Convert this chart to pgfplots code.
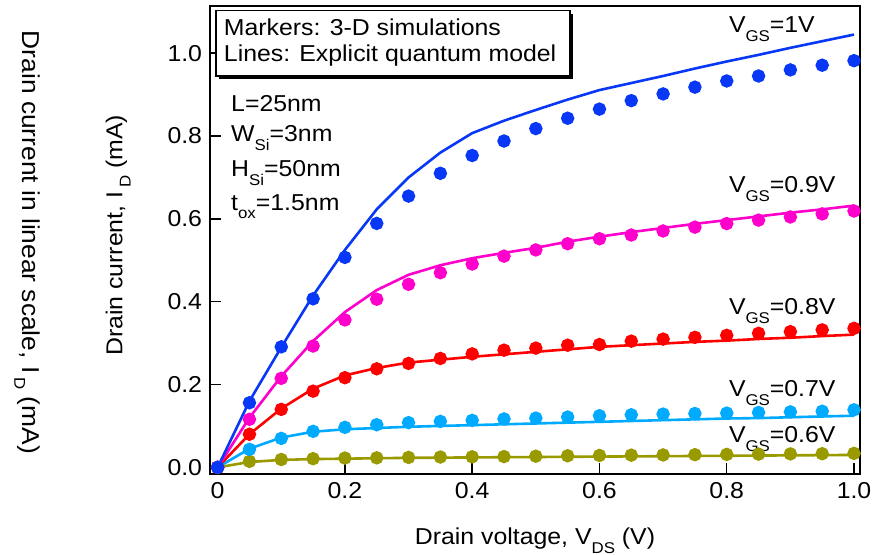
\documentclass[border=0pt]{standalone}
\usepackage{fontspec}
\setmainfont{Liberation Sans}[FakeStretch=1.08]
\usepackage{pgfplots}
\usepackage{pgfplotstable}
\pgfplotsset{compat=1.18}
\usetikzlibrary{calc}

\definecolor{cB}{RGB}{8,56,245}
\definecolor{cM}{RGB}{255,0,204}
\definecolor{cR}{RGB}{255,0,0}
\definecolor{cC}{RGB}{0,170,255}
\definecolor{cO}{RGB}{153,153,0}

\newcommand{\sub}[1]{\raisebox{-4.2pt}{\fontsize{7.8}{8}\selectfont #1}}

% markers: 3-D simulations
\pgfplotstableread{
vds  g10    g09    g08    g07    g06
0.00 0      0      0      0      0
0.05 0.156  0.116  0.080  0.0435 0.0145
0.10 0.291  0.215  0.140  0.070  0.019
0.15 0.407  0.293  0.184  0.087  0.021
0.20 0.507  0.356  0.2165 0.0966 0.0225
0.25 0.589  0.406  0.238  0.103  0.023
0.30 0.655  0.442  0.251  0.108  0.024
0.35 0.710  0.470  0.263  0.111  0.025
0.40 0.753  0.491  0.274  0.1135 0.0255
0.45 0.788  0.510  0.283  0.117  0.026
0.50 0.818  0.525  0.288  0.119  0.027
0.55 0.843  0.540  0.295  0.1215 0.028
0.60 0.865  0.552  0.2966 0.1247 0.0288
0.65 0.8855 0.561  0.3048 0.127  0.0295
0.70 0.9017 0.5708 0.3097 0.1287 0.030
0.75 0.918  0.580  0.314  0.130  0.0307
0.80 0.933  0.5886 0.3188 0.131  0.0313
0.85 0.945  0.597  0.3237 0.1325 0.032
0.90 0.9597 0.6046 0.3277 0.134  0.0325
0.95 0.971  0.612  0.332  0.1355 0.033
1.00 0.982  0.619  0.3357 0.139  0.0338
}\sim

% lines: explicit quantum model
\pgfplotstableread{
vds  g10   g09   g08    g07    g06
0.00 0     0     0      0      0
0.05 0.160 0.120 0.080  0.045  0.013
0.10 0.290 0.220 0.142  0.072  0.018
0.15 0.415 0.305 0.190  0.086  0.020
0.20 0.525 0.375 0.222  0.092  0.021
0.25 0.623 0.428 0.240  0.095  0.022
0.30 0.700 0.465 0.253  0.098  0.023
0.35 0.760 0.488 0.260  0.100  0.0235
0.40 0.807 0.505 0.267  0.102  0.024
0.45 0.837 0.518 0.273  0.104  0.0245
0.50 0.863 0.530 0.279  0.106  0.025
0.55 0.888 0.545 0.285  0.108  0.0255
0.60 0.911 0.557 0.291  0.110  0.026
0.65 0.928 0.568 0.295  0.112  0.0265
0.70 0.945 0.578 0.299  0.114  0.027
0.75 0.963 0.588 0.303  0.116  0.0275
0.80 0.980 0.597 0.306  0.118  0.028
0.85 0.996 0.606 0.310  0.119  0.0285
0.90 1.013 0.615 0.313  0.121  0.029
0.95 1.029 0.623 0.317  0.123  0.0295
1.00 1.045 0.632 0.3205 0.1247 0.030
}\model

\begin{document}
\begin{tikzpicture}[font=\fontsize{11.5}{13.8}\selectfont]
\begin{axis}[name=ax, scale only axis, width=325pt, height=234pt,
  xmin=-0.012, xmax=1.0094, ymin=-0.016, ymax=1.114,
  xtick={0,0.2,0.4,0.6,0.8,1.0}, xticklabels={0,0.2,0.4,0.6,0.8,1.0},
  ytick={0,0.2,0.4,0.6,0.8,1.0}, yticklabels={0.0,0.2,0.4,0.6,0.8,1.0},
  tick align=inside, xtick pos=bottom, ytick pos=left, major tick length=5.5pt,
  axis line style={line width=0.75pt}, every tick/.style={black, line width=0.75pt},
  tick label style={font=\fontsize{11.5}{13.8}\selectfont},
  xlabel={Drain voltage, V\sub{DS} (V)},
  ylabel={Drain current, I\kern2pt\sub{D} (mA)},
  xlabel style={at={(axis description cs:0.5,0)}, anchor=base, yshift=-35.5pt},
  ylabel style={at={(axis description cs:-0.135,0.51)}, anchor=base},
  line width=1.3pt]

\addplot[cO, no marks] table[x=vds,y=g06]{\model};
\addplot[cO, only marks, mark=*, mark size=2.7pt, mark options={draw=none, fill=cO}] table[x=vds,y=g06]{\sim};
\addplot[cC, no marks] table[x=vds,y=g07]{\model};
\addplot[cC, only marks, mark=*, mark size=2.7pt, mark options={draw=none, fill=cC}] table[x=vds,y=g07]{\sim};
\addplot[cR, no marks] table[x=vds,y=g08]{\model};
\addplot[cR, only marks, mark=*, mark size=2.7pt, mark options={draw=none, fill=cR}] table[x=vds,y=g08]{\sim};
\addplot[cM, no marks] table[x=vds,y=g09]{\model};
\addplot[cM, only marks, mark=*, mark size=2.7pt, mark options={draw=none, fill=cM}] table[x=vds,y=g09]{\sim};
\addplot[cB, no marks] table[x=vds,y=g10]{\model};
\addplot[cB, only marks, mark=*, mark size=2.7pt, mark options={draw=none, fill=cB}] table[x=vds,y=g10]{\sim};

% legend box with shadow
\fill[black] (axis cs:0.0020,1.0958) rectangle (axis cs:0.5580,0.9377);
\draw[fill=white, line width=0.75pt] (axis cs:-0.0027,1.103) rectangle (axis cs:0.5533,0.9449);
\node[anchor=base west, inner sep=0pt] at (axis cs:0.0079,1.0418) {Markers: 3-D simulations};
\node[anchor=base west, inner sep=0pt] at (axis cs:0.0079,0.9797) {Lines: Explicit quantum model};

\node[anchor=base west, inner sep=0pt] at (axis cs:0.0193,0.859) {L=25nm};
\node[anchor=base west, inner sep=0pt] at (axis cs:0.0193,0.7865) {W\sub{Si}=3nm};
\node[anchor=base west, inner sep=0pt] at (axis cs:0.0193,0.702) {H\sub{Si}=50nm};
\node[anchor=base west, inner sep=0pt] at (axis cs:0.0193,0.62) {t\sub{ox}=1.5nm};

\node[anchor=base west, inner sep=0pt] at (axis cs:0.8015,1.0491) {V\sub{GS}=1V};
\node[anchor=base west, inner sep=0pt] at (axis cs:0.8015,0.6626) {V\sub{GS}=0.9V};
\node[anchor=base west, inner sep=0pt] at (axis cs:0.8015,0.3683) {V\sub{GS}=0.8V};
\node[anchor=base west, inner sep=0pt] at (axis cs:0.8015,0.1705) {V\sub{GS}=0.7V};
\node[anchor=base west, inner sep=0pt] at (axis cs:0.8015,0.0594) {V\sub{GS}=0.6V};
\end{axis}
\node[rotate=-90, anchor=base, font=\fontsize{12.2}{14.6}\selectfont] at ($(ax.south west)+(-93.6pt,115.8pt)$) {Drain current in linear scale, I\kern2pt\sub{D} (mA)};
\pgfresetboundingbox
\useasboundingbox ($(ax.south west)+(-105pt,-40.5pt)$) rectangle ($(ax.south west)+(336pt,237pt)$);
\end{tikzpicture}
\end{document}
